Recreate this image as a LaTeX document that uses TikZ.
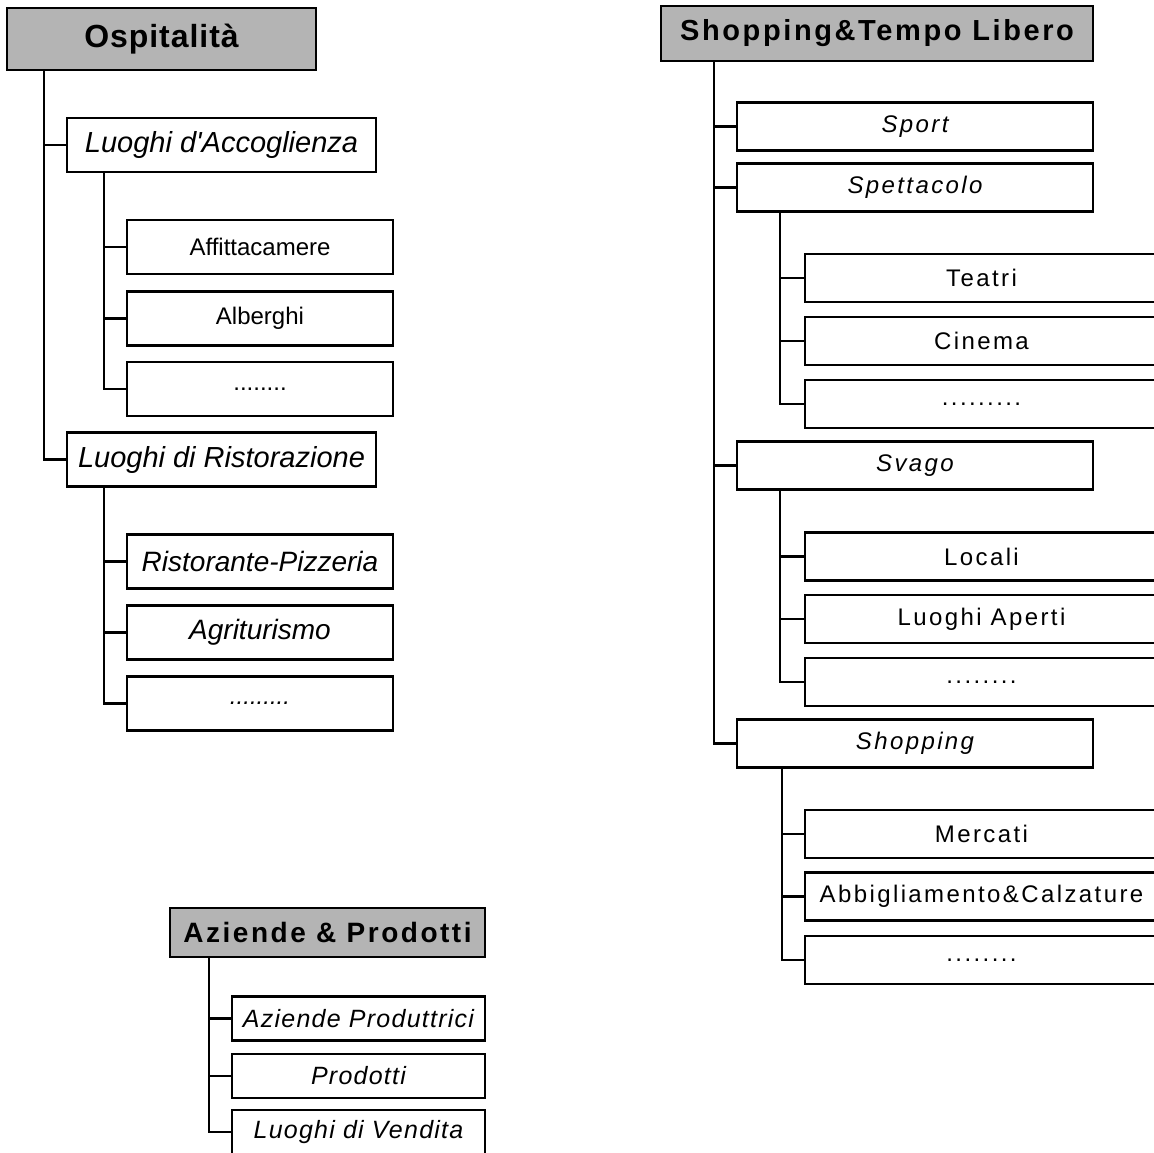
\documentclass[tikz,border=0pt]{standalone}
\usepackage{fontspec}
\setmainfont{Liberation Sans}
\newfontfamily\hdrfont[LetterSpace=9]{Liberation Sans}
\newfontfamily\ospfont[LetterSpace=3]{Liberation Sans}
\newfontfamily\widefont[LetterSpace=10]{Liberation Sans}
\newfontfamily\azifont[LetterSpace=5]{Liberation Sans}
\usetikzlibrary{positioning}
\usepackage{xcolor}
\definecolor{hdrgray}{HTML}{B4B4B4}

\begin{document}
\begin{tikzpicture}[
  x=1pt, y=-1pt,
  box/.style ={draw, line width=2.4pt, inner sep=0pt, fill=white},
  hdr/.style ={box, fill=hdrgray, font=\hdrfont\bfseries\fontsize{28}{30}\selectfont},
  catL/.style={box, minimum width=309pt, minimum height=54pt,
               font=\itshape\fontsize{29}{31}\selectfont},
  leafL/.style={box, minimum width=266pt, minimum height=54pt,
               font=\fontsize{24}{26}\selectfont},
  catR/.style={box, minimum width=356pt, minimum height=48pt,
               font=\widefont\itshape\fontsize{24}{26}\selectfont},
  leafR/.style={box, minimum width=353pt, minimum height=48pt,
               font=\widefont\fontsize{24}{26}\selectfont},
  leafA/.style={box, minimum width=253pt, minimum height=44pt,
               font=\azifont\itshape\fontsize{25}{27}\selectfont},
  conn/.style={line width=2.4pt}
]
\useasboundingbox (0,0) rectangle (1154,1152);
\clip (0,0) rectangle (1154,1152);

%% ─── Ospitalità ─────────────────────────────────────────────────────────────
\node[hdr, font=\ospfont\bfseries\fontsize{32}{34}\selectfont, minimum width=309pt, minimum height=62pt]
      (osp_t)   at (161.5, 39)   {Ospitalità};
\node[catL]  (osp_acc) at (221.5,145)   {Luoghi d\textquotesingle Accoglienza};
\node[leafL] (acc_aff) at (260,247)     {Affittacamere};
\node[leafL] (acc_alb) at (260,318.5)   {Alberghi};
\node[leafL] (acc_dot) at (260,389)     {........};
\node[catL]  (osp_ris) at (221.5,459.5) {Luoghi di Ristorazione};
\node[leafL, font=\itshape\fontsize{28}{30}\selectfont]
             (ris_piz) at (260,561.5)   {Ristorante-Pizzeria};
\node[leafL, font=\itshape\fontsize{28}{30}\selectfont]
             (ris_agr) at (260,632.5)   {Agriturismo};
\node[leafL, font=\itshape\fontsize{24}{26}\selectfont]
             (ris_dot) at (260,703.5)   {.........};

\coordinate (osp_r) at (44,70);
\coordinate (acc_r) at (104,172);
\coordinate (ris_r) at (104,486);

\foreach \a/\b in {osp_r/osp_acc, osp_r/osp_ris,
                   acc_r/acc_aff, acc_r/acc_alb, acc_r/acc_dot,
                   ris_r/ris_piz, ris_r/ris_agr, ris_r/ris_dot}
  \draw[conn] (\a) |- (\b.west);

%% ─── Aziende & Prodotti ─────────────────────────────────────────────────────
\node[hdr, minimum width=315pt, minimum height=49pt]
             (azi_t)   at (327.5,932.5) {Aziende \& Prodotti};
\node[leafA] (azi_pro) at (358.5,1018.5) {Aziende Produttrici};
\node[leafA] (azi_prd) at (358.5,1076)   {Prodotti};
\node[leafA] (azi_ven) at (358.5,1132)   {Luoghi di Vendita};

\coordinate (azi_r) at (209,957);

\foreach \b in {azi_pro, azi_prd, azi_ven}
  \draw[conn] (azi_r) |- (\b.west);

%% ─── Shopping&Tempo Libero ──────────────────────────────────────────────────
\node[hdr, font=\hdrfont\bfseries\fontsize{29}{31}\selectfont, minimum width=432pt, minimum height=55pt]
             (shp_t)   at (877,33.5)  {Shopping\&Tempo Libero};
\node[catR]  (shp_spo) at (915,126.5) {Sport};
\node[catR]  (shp_spe) at (915,187.5) {Spettacolo};
\node[leafR] (spe_tea) at (981.5,278) {Teatri};
\node[leafR] (spe_cin) at (981.5,341) {Cinema};
\node[leafR] (spe_dot) at (981.5,404) {.........};
\node[catR]  (shp_sva) at (915,465.5) {Svago};
\node[leafR] (sva_loc) at (981.5,556.5) {Locali};
\node[leafR] (sva_ape) at (981.5,619)   {Luoghi Aperti};
\node[leafR] (sva_dot) at (981.5,682)   {........};
\node[catR]  (shp_sho) at (915,743.5) {Shopping};
\node[leafR] (sho_mer) at (981.5,834)   {Mercati};
\node[leafR] (sho_abb) at (981.5,896.5) {Abbigliamento\&Calzature};
\node[leafR] (sho_dot) at (981.5,960)   {........};

\coordinate (shp_r) at (714,61);
\coordinate (spe_r) at (780,212);
\coordinate (sva_r) at (780,489);
\coordinate (sho_r) at (782,767);

\foreach \a/\b in {shp_r/shp_spo, shp_r/shp_spe, shp_r/shp_sva, shp_r/shp_sho,
                   spe_r/spe_tea, spe_r/spe_cin, spe_r/spe_dot,
                   sva_r/sva_loc, sva_r/sva_ape, sva_r/sva_dot,
                   sho_r/sho_mer, sho_r/sho_abb, sho_r/sho_dot}
  \draw[conn] (\a) |- (\b.west);

\end{tikzpicture}
\end{document}
